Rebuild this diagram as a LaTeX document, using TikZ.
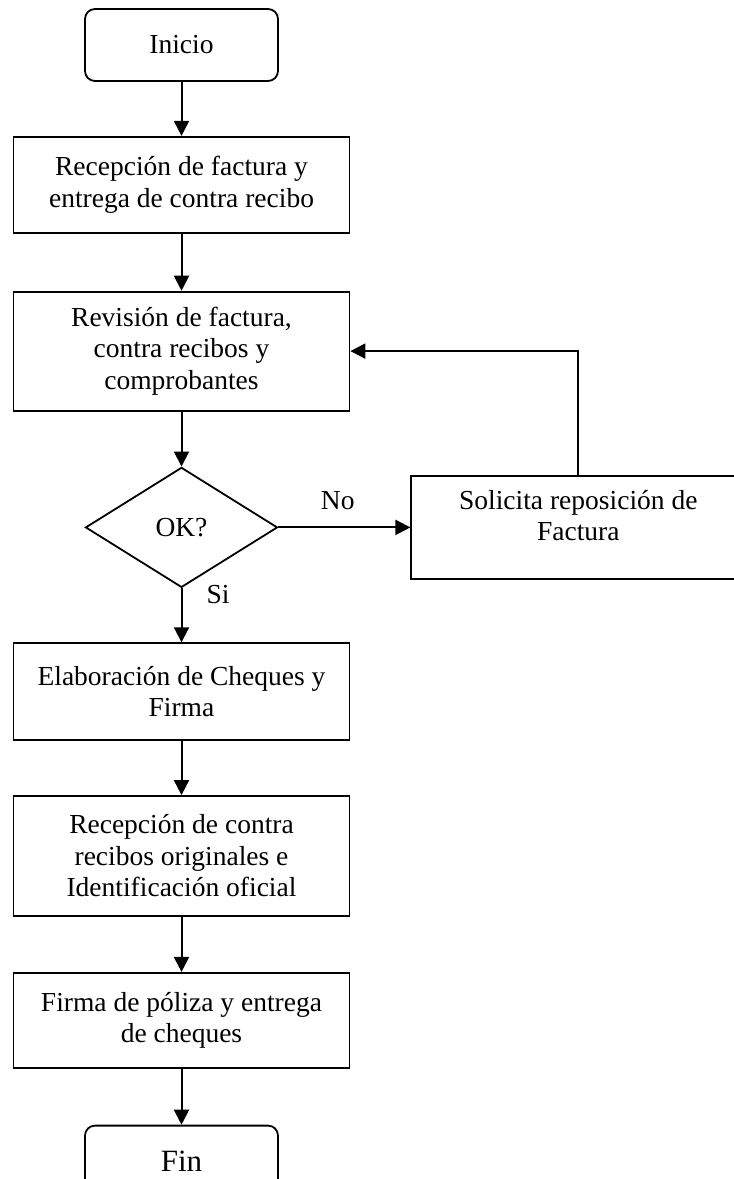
\documentclass[tikz,border=0pt]{standalone}
\usepackage{fontspec}
\setmainfont{Liberation Serif}
\usetikzlibrary{positioning, arrows.meta, shapes.geometric}

\begin{document}
\begin{tikzpicture}[
    x=1pt, y=1pt,
    % Node styles
    terminal/.style={
        rectangle,
        rounded corners=10pt,
        draw=black,
        line width=1.8pt,
        minimum width=193pt,
        minimum height=72pt,
        align=center,
        font=\fontsize{27.5}{31.5}\selectfont
    },
    process/.style={
        rectangle,
        draw=black,
        line width=1.8pt,
        minimum width=336pt,
        minimum height=#1,
        align=center,
        font=\fontsize{27.5}{31.5}\selectfont
    },
    process/.default=96pt,
    decision/.style={
        diamond,
        draw=black,
        line width=1.8pt,
        aspect=1.6,
        inner sep=0pt,
        minimum width=192pt,
        minimum height=120pt,
        font=\fontsize{27.5}{31.5}\selectfont
    },
    arrow/.style={
        -{Triangle[length=15pt, width=15pt]},
        line width=2pt,
        draw=black
    },
    answer/.style={
        inner sep=2pt,
        font=\fontsize{27.5}{31.5}\selectfont
    }
]

% Page frame
\useasboundingbox (0,0) rectangle (734,-1179);

% Main column
\node[terminal] (inicio) at (181.5,-45) {Inicio};

\node[process, below=54pt of inicio] (recepcion) {
    Recepción de factura y\\
    entrega de contra recibo
};

\node[process=119pt, below=57pt of recepcion] (revision) {
    Revisión de factura,\\
    contra recibos y\\
    comprobantes
};

\node[decision, below=55pt of revision] (ok) {OK?};

\node[process=97pt, below=54pt of ok] (cheques) {
    Elaboración de Cheques y\\
    Firma
};

\node[process=120pt, below=54pt of cheques] (originales) {
    Recepción de contra\\
    recibos originales e\\
    Identificación oficial
};

\node[process=95pt, below=55pt of originales] (poliza) {
    Firma de póliza y entrega\\
    de cheques
};

\node[terminal, below=56pt of poliza, font=\fontsize{31}{35}\selectfont] (fin) {Fin};

% Side branch
\node[process=103pt, minimum width=334pt, right=132pt of ok] (reposicion) {
    Solicita reposición de\\
    Factura\\[-8pt]
};

% Arrows down the column
\draw[arrow] (inicio) -- (recepcion);
\draw[arrow] (recepcion) -- (revision);
\draw[arrow] (revision) -- (ok);
\draw[arrow] (ok) -- (cheques);
\draw[arrow] (cheques) -- (originales);
\draw[arrow] (originales) -- (poliza);
\draw[arrow] (poliza) -- (fin);

% Loop back
\draw[arrow] (ok.east) -- node[answer, pos=0.45, above=15pt] {No} (reposicion.west);
\draw[arrow] (reposicion.north) |- (revision.east);

\node[answer, below right=-5pt and 23pt of ok.south] (si) {Si};

\end{tikzpicture}
\end{document}
